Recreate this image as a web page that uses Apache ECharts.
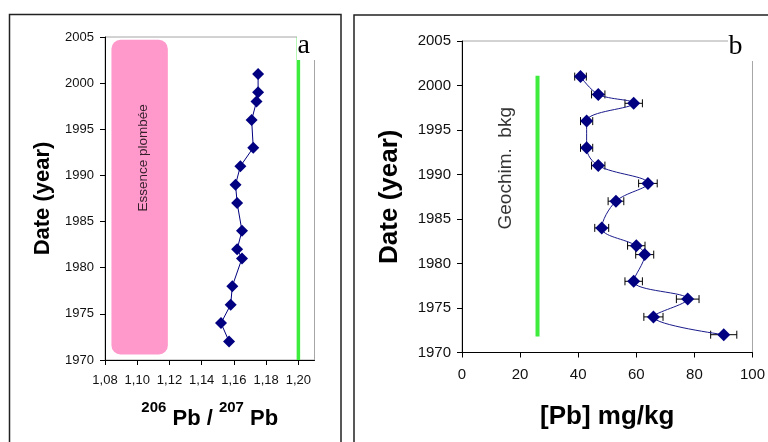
<!DOCTYPE html>
<html>
<head>
<meta charset="utf-8">
<script src="https://cdn.jsdelivr.net/npm/echarts@6/dist/echarts.min.js"></script>
<style>
  html, body { margin: 0; padding: 0; background: #fff; }
  #chart { width: 768px; height: 442px; }
</style>
</head>
<body>
<div id="chart"></div>
<script>
// Core dating, one entry per dated sediment slice
const years = [2001, 1999, 1998, 1996, 1993, 1991, 1989, 1987, 1984, 1982, 1981, 1978, 1976, 1974, 1972];
// 206Pb/207Pb isotopic ratio (panel a)
const pbRatio = [1.175, 1.175, 1.174, 1.171, 1.172, 1.164, 1.161, 1.162, 1.165, 1.162, 1.165, 1.159, 1.158, 1.152, 1.157];
// Lead concentration, mg/kg (panel b) and its analytical uncertainty
const pbConc = [40.8, 46.9, 59.1, 42.9, 42.9, 46.9, 64.0, 53.0, 48.1, 60.0, 62.9, 59.1, 77.7, 65.9, 90.1];
const pbErr = [2.0, 2.3, 3.0, 2.1, 2.1, 2.3, 3.2, 2.7, 2.4, 3.0, 3.1, 3.0, 3.9, 3.3, 4.5];

// Axis ticks
const ratioTicks = [1.08, 1.10, 1.12, 1.14, 1.16, 1.18, 1.20];
const yearTicks = [1970, 1975, 1980, 1985, 1990, 1995, 2000, 2005];

// Reference values
const naturalRatio = 1.20;            // natural (geogenic) signature
const naturalRatioYears = [1970, 2005];
const leadedGasRatio = [1.084, 1.119]; // leaded gasoline range
const leadedGasYears = [1970.6, 2004.7];
const leadedGasLabelAt = [1.1035, 1991.9];
const geochemBkg = 26;                 // geochemical background, mg/kg
const geochemBkgYears = [1971.8, 2001.1];
const geochemLabelAt = [15.2, 1990.7];

const FONT = '"Liberation Sans", Arial, sans-serif';
const SERIF = '"Liberation Serif", "Times New Roman", serif';
const NAVY = '#000080';
const GREEN = '#3dec3d';

const chart = echarts.init(document.getElementById('chart'), null, { renderer: 'canvas' });

function yAxisCfg(gridIndex, fontSize, nameSize, nameGap) {
  return {
    gridIndex: gridIndex,
    type: 'value',
    min: yearTicks[0], max: yearTicks[yearTicks.length - 1], interval: 5,
    name: 'Date (year)',
    nameLocation: 'middle',
    nameRotate: 90,
    nameGap: nameGap,
    nameTextStyle: { fontFamily: FONT, fontWeight: 'bold', fontSize: nameSize, color: '#000' },
    axisLine: { show: true, onZero: false, lineStyle: { color: '#000', width: 1 } },
    axisTick: { show: true, length: 5, lineStyle: { color: '#000', width: 1 } },
    axisLabel: { fontFamily: FONT, fontSize: fontSize, color: '#111', margin: 11, formatter: v => String(v) },
    splitLine: { show: false }
  };
}

const option = {
  animation: false,
  backgroundColor: '#fff',
  grid: [
    { left: 105, top: 37, width: 209.5, height: 323, show: true, borderColor: '#a6a6a6', borderWidth: 1 },
    { left: 462, top: 41, width: 292, height: 311.5, show: true, borderColor: '#a6a6a6', borderWidth: 1 }
  ],
  xAxis: [
    {
      gridIndex: 0, type: 'value', min: 1.08, max: 1.21,
      name: '{sup|206}{m| Pb / }{sup|207}{m| Pb}',
      nameLocation: 'middle', nameGap: 40,
      nameTextStyle: {
        rich: {
          m: { fontFamily: FONT, fontWeight: 'bold', fontSize: 22, lineHeight: 30, verticalAlign: 'bottom', color: '#000' },
          sup: { fontFamily: FONT, fontWeight: 'bold', fontSize: 15, lineHeight: 15, verticalAlign: 'top', color: '#000' }
        }
      },
      axisLine: { show: true, onZero: false, lineStyle: { color: '#000', width: 1 } },
      axisTick: { show: true, length: 5, customValues: ratioTicks, lineStyle: { color: '#000', width: 1 } },
      axisLabel: {
        customValues: ratioTicks, fontFamily: FONT, fontSize: 13, color: '#111', margin: 14,
        formatter: v => v.toFixed(2).replace('.', ',')
      },
      splitLine: { show: false }
    },
    {
      gridIndex: 1, type: 'value', min: 0, max: 100, interval: 20,
      name: '[Pb] mg/kg',
      nameLocation: 'middle', nameGap: 51,
      nameTextStyle: { fontFamily: FONT, fontWeight: 'bold', fontSize: 26, color: '#000' },
      axisLine: { show: true, onZero: false, lineStyle: { color: '#000', width: 1 } },
      axisTick: { show: true, length: 5, lineStyle: { color: '#000', width: 1 } },
      axisLabel: { fontFamily: FONT, fontSize: 15, color: '#111', margin: 15 },
      splitLine: { show: false }
    }
  ],
  yAxis: [
    yAxisCfg(0, 13, 22, 51),
    yAxisCfg(1, 15, 26, 59)
  ],
  series: [
    // Leaded gasoline band
    {
      type: 'custom', xAxisIndex: 0, yAxisIndex: 0, silent: true, z: 1,
      data: [[leadedGasRatio[0], leadedGasYears[0], leadedGasRatio[1], leadedGasYears[1]]],
      renderItem: function (params, api) {
        const tl = api.coord([api.value(0), api.value(3)]);
        const br = api.coord([api.value(2), api.value(1)]);
        return {
          type: 'rect',
          shape: { x: tl[0], y: tl[1], width: br[0] - tl[0], height: br[1] - tl[1], r: 9 },
          style: { fill: '#ff99cc' }
        };
      }
    },
    {
      type: 'scatter', xAxisIndex: 0, yAxisIndex: 0, silent: true, z: 2,
      symbolSize: 0,
      data: [leadedGasLabelAt],
      label: {
        show: true, position: 'inside', rotate: 90, formatter: 'Essence plombée',
        fontFamily: FONT, fontSize: 13.5, color: '#000'
      }
    },
    // Natural isotopic ratio
    {
      type: 'line', xAxisIndex: 0, yAxisIndex: 0, silent: true, z: 2,
      symbol: 'none',
      data: naturalRatioYears.map(y => [naturalRatio, y]),
      lineStyle: { color: GREEN, width: 3.5 }
    },
    {
      type: 'line', xAxisIndex: 0, yAxisIndex: 0, z: 5,
      data: years.map((y, i) => [pbRatio[i], y]),
      symbol: 'diamond', symbolSize: 12,
      itemStyle: { color: NAVY },
      lineStyle: { color: NAVY, width: 1 }
    },
    // Geochemical background
    {
      type: 'line', xAxisIndex: 1, yAxisIndex: 1, silent: true, z: 2,
      symbol: 'none',
      data: geochemBkgYears.map(y => [geochemBkg, y]),
      lineStyle: { color: GREEN, width: 4 }
    },
    {
      type: 'scatter', xAxisIndex: 1, yAxisIndex: 1, silent: true, z: 2,
      symbolSize: 0,
      data: [geochemLabelAt],
      label: {
        show: true, position: 'inside', rotate: 90, formatter: 'Geochim.  bkg',
        fontFamily: FONT, fontSize: 19, color: '#000'
      }
    },
    // Horizontal error bars
    {
      type: 'custom', xAxisIndex: 1, yAxisIndex: 1, silent: true, z: 4,
      data: years.map((y, i) => [pbConc[i] - pbErr[i], pbConc[i] + pbErr[i], y]),
      renderItem: function (params, api) {
        const a = api.coord([api.value(0), api.value(2)]);
        const b = api.coord([api.value(1), api.value(2)]);
        const h = 4;
        const st = { stroke: '#000', lineWidth: 1 };
        return {
          type: 'group',
          children: [
            { type: 'line', shape: { x1: a[0], y1: a[1], x2: b[0], y2: b[1] }, style: st },
            { type: 'line', shape: { x1: a[0], y1: a[1] - h, x2: a[0], y2: a[1] + h }, style: st },
            { type: 'line', shape: { x1: b[0], y1: b[1] - h, x2: b[0], y2: b[1] + h }, style: st }
          ]
        };
      }
    },
    {
      type: 'line', xAxisIndex: 1, yAxisIndex: 1, z: 5,
      data: years.map((y, i) => [pbConc[i], y]),
      smooth: 0.35,
      symbol: 'diamond', symbolSize: 13,
      itemStyle: { color: NAVY },
      lineStyle: { color: '#1a1a8c', width: 1 }
    }
  ],
  graphic: [
    // Panel frames
    { type: 'rect', z: 50, silent: true, shape: { x: 9.5, y: 14.5, width: 331.5, height: 450 },
      style: { fill: null, stroke: '#222', lineWidth: 1.5 } },
    { type: 'rect', z: 50, silent: true, shape: { x: 354, y: 15, width: 430, height: 450 },
      style: { fill: null, stroke: '#222', lineWidth: 1.5 } },
    // Panel letters on their white tabs
    { type: 'rect', z: 40, silent: true, shape: { x: 297, y: 24, width: 21, height: 36 }, style: { fill: '#fff' } },
    { type: 'text', z: 41, silent: true,
      style: { text: 'a', x: 297.5, y: 46, font: '28px ' + SERIF, fill: '#000', align: 'left', verticalAlign: 'middle' } },
    { type: 'rect', z: 40, silent: true, shape: { x: 728, y: 24, width: 32, height: 37 }, style: { fill: '#fff' } },
    { type: 'text', z: 41, silent: true,
      style: { text: 'b', x: 728.5, y: 46.5, font: '28px ' + SERIF, fill: '#000', align: 'left', verticalAlign: 'middle' } }
  ]
};

chart.setOption(option);
</script>
</body>
</html>
